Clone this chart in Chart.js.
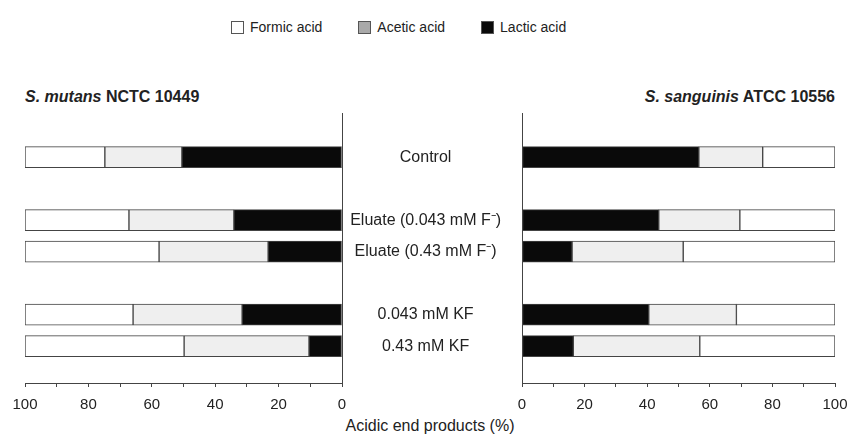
<!DOCTYPE html>
<html>
<head>
<meta charset="utf-8">
<script src="https://cdn.jsdelivr.net/npm/chart.js@4.4.1/dist/chart.umd.min.js"></script>
<style>
  html, body { margin: 0; padding: 0; background: #fff; }
  body { width: 849px; height: 438px; position: relative; overflow: hidden;
         font-family: "Liberation Sans", Arial, sans-serif; color: #222; }
  canvas { position: absolute; left: 0; top: 0; }
  .legend { position: absolute; top: 19px; left: 231px; display: flex; font-size: 14px; }
  .legend span { display: flex; align-items: center; margin-right: 36px; }
  .legend i { display: inline-block; width: 11px; height: 11px; border: 1px solid #555; margin-right: 6px; }
  .title { position: absolute; top: 88px; font-size: 16px; font-weight: bold; }
  .xtitle { position: absolute; top: 417px; left: 310px; width: 240px; text-align: center; font-size: 16px; }
</style>
</head>
<body>
<div class="legend">
  <span><i style="background:#fff"></i>Formic acid</span>
  <span><i style="background:#a9a9a9"></i>Acetic acid</span>
  <span><i style="background:#0a0a0a"></i>Lactic acid</span>
</div>
<div class="title" style="left:25px"><i>S. mutans</i> NCTC 10449</div>
<div class="title" style="right:14px"><i>S. sanguinis</i> ATCC 10556</div>
<div class="xtitle">Acidic end products (%)</div>
<canvas id="leftChart" width="849" height="438"></canvas>
<canvas id="rightChart" width="849" height="438"></canvas>
<script>
// Treatment rows, top to bottom; group index puts a blank row between groups
const categories = ['Control', 'Eluate (0.043 mM F\u207B)', 'Eluate (0.43 mM F\u207B)', '0.043 mM KF', '0.43 mM KF'];
const groups = [0, 1, 1, 2, 2];

// S. mutans NCTC 10449 (% of acidic end products)
const mutansLactic = [50.5, 34.1, 23.3, 31.5, 10.4];
const mutansAcetic = [24.3, 33.1, 34.4, 34.4, 39.4];
const mutansFormic = [25.2, 32.8, 42.3, 34.1, 50.2];

// S. sanguinis ATCC 10556
const sanguinisLactic = [56.5, 43.7, 16.0, 40.5, 16.4];
const sanguinisAcetic = [20.4, 25.9, 35.5, 28.0, 40.4];
const sanguinisFormic = [23.1, 30.4, 48.5, 31.5, 43.2];

const xTicks = [0, 20, 40, 60, 80, 100];

const COLORS = { formic: '#ffffff', acetic: '#efefef', lactic: '#0a0a0a', line: '#444' };
const FONT = "'Liberation Sans', Arial, sans-serif";

// row slot of each category (blank slot between groups)
const slots = categories.map((c, i) => i + groups[i]);

/**
 * Build stacked datasets; lactic sits next to the zero line, formic at the outer end
 */
function buildDatasets(lactic, acetic, formic) {
  const make = (label, values, color) => ({
    label,
    data: values.map((v, i) => ({ x: v, y: slots[i] })),
    backgroundColor: color,
    borderColor: COLORS.line,
    borderWidth: 1,
    borderSkipped: false,
    barThickness: 21
  });
  return [
    make('Lactic acid', lactic, COLORS.lactic),
    make('Acetic acid', acetic, COLORS.acetic),
    make('Formic acid', formic, COLORS.formic)
  ];
}

function xScale(reverse) {
  return {
    type: 'linear',
    min: 0,
    max: 100,
    reverse,
    stacked: true,
    border: { display: true, color: COLORS.line, width: 1 },
    grid: { display: true, drawOnChartArea: false, drawTicks: true, tickLength: 4, color: COLORS.line },
    ticks: {
      stepSize: 10,
      padding: 9,
      color: '#222',
      font: { family: FONT, size: 15 },
      maxRotation: 0,
      autoSkip: false,
      callback: (v) => (xTicks.includes(v) ? String(v) : '')
    },
    // fixed axis height; edge labels overflow into the layout padding
    afterFit: (axis) => {
      axis.height = 55;
      axis.paddingLeft = 0;
      axis.paddingRight = 0;
    }
  };
}

function yScale(position, showLabels) {
  return {
    type: 'linear',
    position,
    reverse: true,
    offset: false,
    min: -1.4,
    max: 7.17,
    bounds: 'data',
    stacked: true,
    border: { display: true, color: COLORS.line, width: 1 },
    grid: { display: false, offset: false },
    afterBuildTicks: (axis) => { axis.ticks = slots.map((value) => ({ value })); },
    ticks: {
      display: showLabels,
      crossAlign: 'center',
      padding: 13,
      color: '#222',
      font: { family: FONT, size: 16 },
      autoSkip: false,
      callback: (v) => categories[slots.indexOf(v)] || ''
    },
    afterFit: (axis) => { axis.width = showLabels ? 180 : 0; }
  };
}

function baseOptions(padding, reverse, yPosition, showLabels) {
  return {
    indexAxis: 'y',
    responsive: false,
    animation: false,
    devicePixelRatio: 1,
    layout: { padding },
    plugins: { legend: { display: false }, tooltip: { enabled: false }, title: { display: false } },
    scales: {
      x: xScale(reverse),
      y: yScale(yPosition, showLabels)
    }
  };
}

new Chart(document.getElementById('leftChart'), {
  type: 'bar',
  data: { datasets: buildDatasets(mutansLactic, mutansAcetic, mutansFormic) },
  options: baseOptions({ left: 25, right: 507, top: 113, bottom: 0 }, true, 'right', false)
});

new Chart(document.getElementById('rightChart'), {
  type: 'bar',
  data: { datasets: buildDatasets(sanguinisLactic, sanguinisAcetic, sanguinisFormic) },
  options: baseOptions({ left: 342, right: 14, top: 113, bottom: 0 }, false, 'left', true)
});
</script>
</body>
</html>
